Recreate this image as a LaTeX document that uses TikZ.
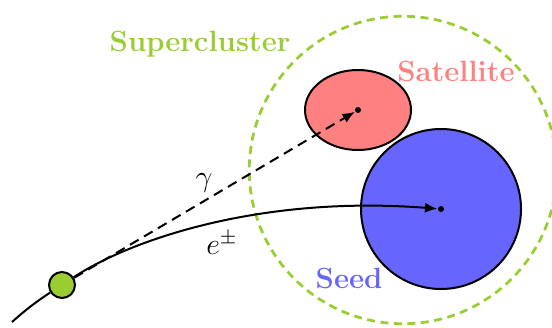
\documentclass[tikz,border=0pt]{standalone}
\usetikzlibrary{arrows.meta,shapes.geometric}
\definecolor{scgreen}{RGB}{154,205,50}
\definecolor{satred}{RGB}{255,128,128}
\definecolor{seedblue}{RGB}{102,102,255}
\begin{document}
\begin{tikzpicture}[x=0.4pt,y=-0.4pt,
  lbl/.style={font=\fontsize{11.7}{14}\selectfont\bfseries},
  mathlbl/.style={font=\fontsize{11.7}{14}\selectfont},
  ctr/.style={circle,fill=black,inner sep=0pt,minimum size=2.4pt},
  conn/.style={line width=0.8pt}]
\useasboundingbox (0,0) rectangle (552,327);
% supercluster
\node[circle,draw=scgreen,line width=1.1pt,dash pattern=on 3.2pt off 2.2pt,minimum size=123pt,inner sep=0pt] (super) at (403,170) {};
% satellite and seed
\node[ellipse,draw=black,line width=0.8pt,fill=satred,minimum width=42.4pt,minimum height=32pt,inner sep=0pt] (sat) at (358,110) {};
\node[circle,draw=black,line width=0.8pt,fill=seedblue,minimum size=64pt,inner sep=0pt] (seed) at (441,209) {};
\node[ctr] (satc) at (358,110) {};
\node[ctr] (seedc) at (441,209) {};
% source
\coordinate (tail) at (12,322);
\node[circle,draw=black,line width=0.8pt,fill=scgreen,minimum size=10.4pt,inner sep=0pt] (src) at (62,285) {};
% connectors
\draw[conn] (tail) to[bend left=4] (src);
\draw[conn,-{Latex[length=5pt,width=4pt]}] (src) .. controls (130,240) and (260,195) .. (seedc);
\draw[conn,dash pattern=on 4pt off 2.5pt,-{Latex[length=5pt,width=4pt]}] (src) -- (satc);
% labels
\node[lbl,text=scgreen] (tsuper) at (200,44) {Supercluster};
\node[lbl,text=satred] (tsat) at (456,71) {Satellite};
\node[lbl,text=seedblue] (tseed) at (349,278) {Seed};
\node[mathlbl] (tgamma) at (204,183) {$\gamma$};
\node[mathlbl] (te) at (222,243) {$e^{\pm}$};
\end{tikzpicture}
\end{document}
